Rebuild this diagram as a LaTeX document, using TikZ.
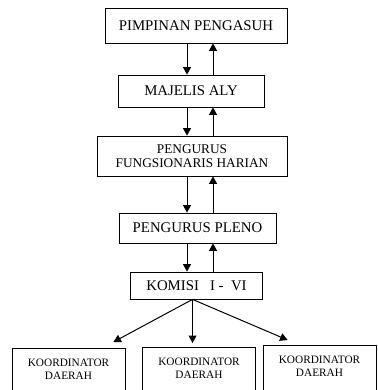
\documentclass[tikz,border=0pt]{standalone}
\usepackage{fontspec}
\setmainfont{Liberation Serif}
\usetikzlibrary{arrows.meta,calc}
\def \downx {187}
\def \upx {213}
\def \bigfont {\fontsize{14.8}{16}\selectfont}
\def \midfont {\fontsize{13.3}{13.5}\selectfont}
\def \smallfont {\fontsize{11.3}{12.5}\selectfont}
\tikzstyle{unit}=[draw, line width=0.8pt, inner sep=0pt, align=center]
\tikzstyle{region}=[unit, minimum width=113, anchor=north, inner ysep=11pt, text depth=30pt, font=\smallfont]
\tikzstyle{link}=[-{Triangle[length=7.5pt,width=8pt]}, line width=1pt]

\begin{document}
\begin{tikzpicture}[x=1pt, y=-1pt]
\useasboundingbox (0,0) rectangle (377,390);

\node[unit, minimum width=182, minimum height=35, font=\bigfont] (pengasuh) at (196,25.5) {PIMPINAN PENGASUH};
\node[unit, minimum width=146, minimum height=32, font=\bigfont] (majelis) at (191,91) {MAJELIS ALY};
\node[unit, minimum width=190, minimum height=40, font=\midfont] (harian) at (192,156) {PENGURUS\\FUNGSIONARIS HARIAN};
\node[unit, minimum width=157, minimum height=30, font=\bigfont] (pleno) at (197.5,228) {PENGURUS PLENO};
\node[unit, minimum width=132, minimum height=27, font=\bigfont] (komisi) at (196.5,285.5) {KOMISI\ \ \ I -\ \ VI};

\node[region] (koord1) at (68.5,348) {KOORDINATOR\\DAERAH};
\node[region] (koord2) at (199,347) {KOORDINATOR\\DAERAH};
\node[region] (koord3) at (319.5,345) {KOORDINATOR\\DAERAH};

\coordinate (dn) at (\downx,0);
\coordinate (up) at (\upx,0);

\foreach \a/\b in {pengasuh/majelis, majelis/harian, harian/pleno, pleno/komisi} {
    \draw[link] (\a.south -| dn) -- (\b.north -| dn);
    \draw[link] (\b.north -| up) -- (\a.south -| up);
}

\draw[link] ([xshift=-4pt]komisi.south) -- ($(koord1.north east)+(-12,-6)$);
\draw[link] ([xshift=-4pt]komisi.south) -- ($([xshift=-4pt]komisi.south |- koord2.north)+(0,-4)$);
\draw[link] ([xshift=-4pt]komisi.south) -- ($(koord3.north west)+(25,-5)$);

\end{tikzpicture}
\end{document}
